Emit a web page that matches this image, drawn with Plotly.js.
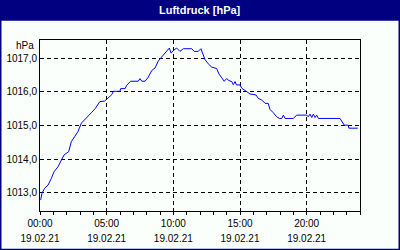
<!DOCTYPE html>
<html><head><meta charset="utf-8">
<script src="https://cdn.plot.ly/plotly-3.0.1.min.js"></script>
<style>html,body{margin:0;padding:0;background:#fff}#c{width:400px;height:250px}</style>
</head><body><div id="c"></div>
<script>
// time of day (19.02.21), HH:MM
const times = ["00:03","00:09","00:21","00:36","00:51","01:03","01:21","01:36","01:48","02:09","02:21","02:36","02:51","03:06","03:28","03:51","04:09","04:29","04:51","05:03","05:07","05:23","05:30","06:00","06:03","06:23","06:30","06:48","07:22","07:30","07:38","07:53","08:07","08:23","08:38","08:52","09:03","09:23","09:42","09:50","10:00","10:15","10:30","10:45","11:23","11:34","11:52","12:04","12:15","12:23","12:37","12:53","13:15","13:25","13:38","13:49","14:00","14:10","14:23","14:30","14:38","14:44","15:00","15:08","15:30","15:45","16:12","16:22","16:38","16:53","17:07","17:15","17:30","17:45","17:57","18:08","18:15","18:23","19:00","19:15","20:00","20:07","20:15","20:23","20:30","20:38","20:45","20:53","22:30","22:38","22:49","23:07","23:10","23:50"];
const pressure = [1012.78,1012.98,1013.13,1013.22,1013.42,1013.62,1013.77,1013.97,1014.12,1014.22,1014.52,1014.67,1014.82,1015.07,1015.21,1015.38,1015.51,1015.71,1015.73,1015.81,1015.82,1015.92,1016.02,1016.02,1016.10,1016.10,1016.20,1016.32,1016.32,1016.40,1016.32,1016.32,1016.44,1016.64,1016.72,1016.92,1017.01,1017.16,1017.31,1017.16,1017.24,1017.31,1017.21,1017.29,1017.29,1017.21,1017.21,1017.29,1017.07,1016.96,1016.84,1016.74,1016.70,1016.54,1016.42,1016.32,1016.40,1016.34,1016.31,1016.22,1016.31,1016.21,1016.21,1016.11,1016.01,1015.94,1015.91,1015.81,1015.76,1015.66,1015.66,1015.48,1015.38,1015.26,1015.21,1015.21,1015.31,1015.21,1015.21,1015.31,1015.31,1015.26,1015.34,1015.24,1015.34,1015.24,1015.31,1015.21,1015.21,1015.11,1015.01,1015.01,1014.92,1014.92];
const tickHours = [0,5,10,15,20];
const tickTimes = ["00:00","05:00","10:00","15:00","20:00"];
const tickDates = ["19.02.21","19.02.21","19.02.21","19.02.21","19.02.21"];
const yTicks = [1013,1014,1015,1016,1017];

const hours = times.map(t => { const [h,m] = t.split(":").map(Number); return h + m/60; });
const NAVY = "#000080", BG = "#fbfffb";
const FONT = {family:"Liberation Sans, Arial, sans-serif", size:10, color:"#000"};

const traces = [
  {x: hours, y: pressure, type:"scatter", mode:"lines", line:{color:"#0000ff", width:1}, hoverinfo:"skip", xaxis:"x", yaxis:"y"},
  {x: [], y: [], type:"scatter", mode:"lines", xaxis:"x2", yaxis:"y", hoverinfo:"skip"}
];
const px = v => (v-40)/320, py = v => (210.7-v)/170.7;
const layout = {
  width:400, height:250,
  margin:{l:40, r:40, t:40, b:39.3},
  paper_bgcolor: NAVY, plot_bgcolor: BG,
  separators: ",.",
  showlegend:false,
  font: FONT,
  xaxis:{range:[0,24], tickvals:tickHours, ticktext:tickTimes, showgrid:true, gridcolor:"#000", griddash:"4px,3px", gridwidth:1,
         showline:true, linecolor:"#000", linewidth:1, mirror:true, ticks:"outside", ticklen:3, tickcolor:"#000",
         minor:{dtick:1, ticks:"outside", ticklen:3, tickcolor:"#000", showgrid:false}, zeroline:false, fixedrange:true, tickfont:FONT},
  xaxis2:{range:[0,24], overlaying:"x", anchor:"y", side:"bottom", tickvals:tickHours, ticktext:tickDates, showgrid:false,
          showline:false, ticks:"", ticklabelstandoff:20, zeroline:false, tickfont:FONT},
  yaxis:{range:[1012.45,1017.55], tickvals:yTicks, tickformat:".1f", showgrid:true, gridcolor:"#000", griddash:"4px,3px", gridwidth:1,
         showline:true, linecolor:"#000", linewidth:1, mirror:true, ticks:"", zeroline:false, tickfont:FONT},
  shapes:[
    {type:"rect", xref:"paper", yref:"paper", x0:px(1.5), x1:px(398.5), y0:py(248.5), y1:py(20.7), fillcolor:BG, line:{width:0}, layer:"below"}
  ],
  annotations:[
    {text:"<b>Luftdruck [hPa]</b>", xref:"paper", yref:"paper", x:px(200), y:py(10), showarrow:false, xanchor:"center", yanchor:"middle",
     font:{family:"Liberation Sans, Arial, sans-serif", size:11, color:"#fff"}},
    {text:"hPa", xref:"paper", yref:"paper", x:px(36), y:py(45), showarrow:false, xanchor:"right", yanchor:"middle", font:FONT}
  ]
};
Plotly.newPlot("c", traces, layout, {staticPlot:true, displayModeBar:false});
</script></body></html>
